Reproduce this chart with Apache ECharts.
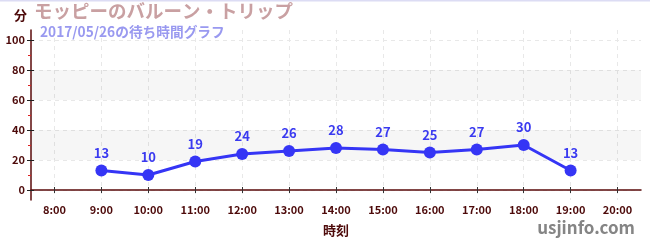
<!DOCTYPE html>
<html><head><meta charset="utf-8">
<script src="https://cdn.jsdelivr.net/npm/echarts@6/dist/echarts.min.js"></script>
<style>html,body{margin:0;padding:0;background:#fff}#c{width:650px;height:250px}</style>
</head><body><div id="c"></div>
<script>
const hours = [8, 9, 10, 11, 12, 13, 14, 15, 16, 17, 18, 19, 20];
const dataHours = [9, 10, 11, 12, 13, 14, 15, 16, 17, 18, 19];
const waitMinutes = [13, 10, 19, 24, 26, 28, 27, 25, 27, 30, 13];
const yTicks = [0, 20, 40, 60, 80, 100];
const yMinorTicks = [10, 30, 50, 70, 90];
const bands = [[20, 40], [60, 80]];
const titleText = 'モッピーのバルーン・トリップ';
const subText = '2017/05/26の待ち時間グラフ';

const font = '"Noto Sans CJK JP", "Noto Sans", sans-serif';
const maroon = '#4d0a0a';
const yMin = -20 / 3, yMax = 320 / 3;

const chart = echarts.init(document.getElementById('c'), null, {renderer: 'canvas'});
const baseY = {type: 'value', min: yMin, max: yMax, position: 'left', splitArea: {show: false}, minorTick: {show: false}};
const baseX = {type: 'value', min: 7.5, max: 20.5, position: 'bottom'};
chart.setOption({
  animation: false,
  graphic: [
    {type: 'rect', shape: {x: 0, y: 0, width: 650, height: 1.5}, style: {fill: '#dcdcf4'}},
    {type: 'text', left: 14, top: 9, style: {text: '分', font: 'bold 13px ' + font, fill: maroon}},
    {type: 'text', right: 15, top: 219, style: {text: 'usjinfo.com', font: 'bold 17px ' + font, fill: '#858585'}}
  ],
  title: [{
    text: titleText, left: 32, top: 0, padding: [2, 2],
    textStyle: {color: '#c9a0a2', fontSize: 18.5, fontWeight: 'bold', fontFamily: font}
  }, {
    text: subText, left: 38, top: 23, padding: [2, 2],
    textStyle: {color: '#9999f0', fontSize: 13.7, fontWeight: 'bold', fontFamily: font}
  }],
  grid: {left: 31, right: 9, top: 30, bottom: 50},
  xAxis: [
    Object.assign({}, baseX, {
      name: '時刻', nameLocation: 'middle', nameGap: 24,
      nameTextStyle: {color: maroon, fontSize: 13, fontWeight: 'bold', fontFamily: font},
      axisLine: {show: true, lineStyle: {color: '#5a0a0a', width: 1.5}},
      axisTick: {show: true, customValues: hours, length: 3, lineStyle: {color: '#333'}},
      axisLabel: {customValues: hours, formatter: v => v + ':00', color: maroon, fontSize: 11, fontWeight: 'bold', fontFamily: font, margin: 4},
      splitLine: {show: true, lineStyle: {color: '#e8e8e8', type: [4, 4]}}
    }),
    Object.assign({}, baseX, {
      axisLine: {show: false},
      axisTick: {show: true, inside: true, customValues: hours, length: 3, lineStyle: {color: '#333'}},
      axisLabel: {show: false}, splitLine: {show: false}
    })
  ],
  yAxis: [
    Object.assign({}, baseY, {
      axisLine: {show: true, lineStyle: {color: '#5a0a0a', width: 1.5}},
      axisTick: {show: true, customValues: yTicks, length: 4, lineStyle: {color: '#222'}},
      axisLabel: {customValues: yTicks, color: maroon, fontSize: 11, fontWeight: 'bold', fontFamily: font, margin: 6},
      splitLine: {show: true, lineStyle: {color: '#e8e8e8', type: [4, 4]}}
    }),
    Object.assign({}, baseY, {
      axisLine: {show: false},
      axisTick: {show: true, inside: true, customValues: yTicks, length: 3, lineStyle: {color: '#222'}},
      axisLabel: {show: false}, splitLine: {show: false}
    }),
    Object.assign({}, baseY, {
      axisLine: {show: false},
      axisTick: {show: true, customValues: yMinorTicks, length: 3, lineStyle: {color: '#dd2222'}},
      axisLabel: {show: false}, splitLine: {show: false}
    })
  ],
  series: [{
    type: 'line',
    data: dataHours.map((h, i) => [h, waitMinutes[i]]),
    symbol: 'circle', symbolSize: 12,
    lineStyle: {color: '#3535f5', width: 3},
    itemStyle: {color: '#3535f5'},
    label: {show: true, position: 'top', distance: 5, color: '#3a3af0', fontSize: 13, fontWeight: 'bold', fontFamily: font},
    markArea: {
      silent: true,
      itemStyle: {color: 'rgba(0,0,0,0.035)'},
      data: bands.map(b => [{yAxis: b[0]}, {yAxis: b[1]}])
    },
    z: 5
  }]
});
</script></body></html>
